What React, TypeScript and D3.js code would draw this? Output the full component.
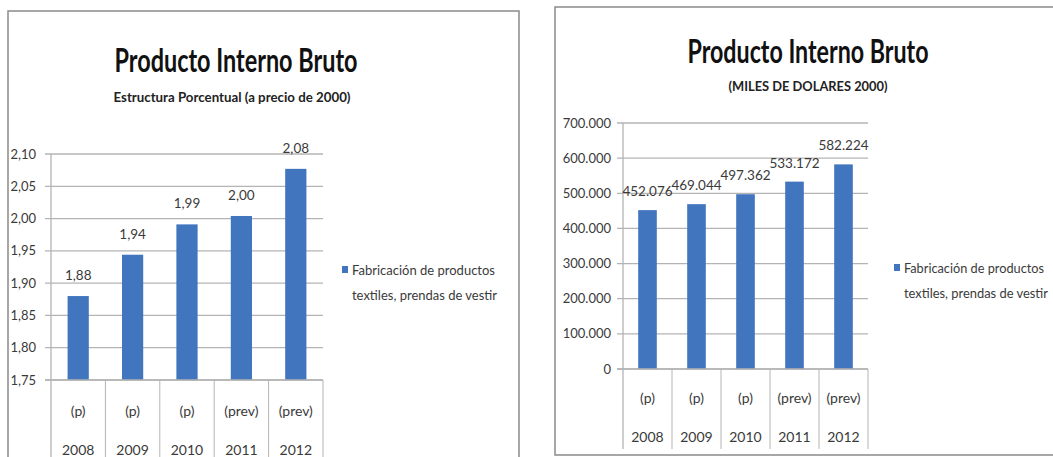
import React from "react";
import * as d3 from "d3";

const years = ["2008", "2009", "2010", "2011", "2012"];
const status = ["(p)", "(p)", "(p)", "(prev)", "(prev)"];
const pctValues = [1.88, 1.944, 1.991, 2.004, 2.077];
const pctTicks = [1.75, 1.8, 1.85, 1.9, 1.95, 2.0, 2.05, 2.1];
const usdValues = [452076, 469044, 497362, 533172, 582224];
const usdTicks = [0, 100000, 200000, 300000, 400000, 500000, 600000, 700000];
const legendLines = ["Fabricación de productos", "textiles, prendas de vestir"];
const mainTitle = "Producto Interno Bruto";
const pctSubtitle = "Estructura Porcentual (a precio de 2000)";
const usdSubtitle = "(MILES DE DOLARES 2000)";

const FONT = "Lato, 'Noto Sans', sans-serif";
const BAR = "#4175bd";
const GRID = "#b4b4b4";
const TXT = "#3a3a3a";

const fmtPct = (v: number) => d3.format(".2f")(v).replace(".", ",");
const fmtUsd = (v: number) => d3.format(",")(v).replace(/,/g, ".");

type Cfg = {
  frame: { x: number; y: number; w: number; h: number };
  title: { cx: number; y: number; w: number };
  sub: { text: string; cx: number; y: number; w: number; size: number };
  x0: number; x1: number; yTop: number; yBot: number;
  domain: [number, number];
  ticks: number[];
  values: number[];
  fmtTick: (v: number) => string;
  fmtLabel: (v: number) => string;
  tickRight: number;
  padding: number;
  statusY: number; yearY: number; sepBottom: number;
  legend: { x: number; y: number; w1: number; w2: number };
  labelOffset: number;
};

function Chart({ c }: { c: Cfg }) {
  const x = d3.scaleBand<string>().domain(years).range([c.x0, c.x1])
    .paddingInner(c.padding).paddingOuter(c.padding / 2);
  const y = d3.scaleLinear().domain(c.domain).range([c.yBot, c.yTop]);
  const step = x.step();
  return (
    <g>
      <rect x={c.frame.x} y={c.frame.y} width={c.frame.w} height={c.frame.h}
        fill="#fff" stroke="#8a8a8a" strokeWidth={1.5} />
      <text x={c.title.cx} y={c.title.y} textAnchor="middle" fontFamily={FONT}
        fontWeight="bold" fontSize={33} fill="#111" textLength={c.title.w}
        lengthAdjust="spacingAndGlyphs">{mainTitle}</text>
      <text x={c.sub.cx} y={c.sub.y} textAnchor="middle" fontFamily={FONT}
        fontWeight="bold" fontSize={c.sub.size} fill="#222" textLength={c.sub.w}
        lengthAdjust="spacingAndGlyphs">{c.sub.text}</text>
      {c.ticks.map((t) => (
        <g key={t}>
          <line x1={c.x0 - 6} x2={c.x1} y1={y(t)} y2={y(t)} stroke={GRID} strokeWidth={1.3} />
          <text x={c.tickRight} y={y(t) + 4.5} textAnchor="end" fontFamily={FONT}
            fontSize={13} fill={TXT}>{c.fmtTick(t)}</text>
        </g>
      ))}
      <line x1={c.x0} x2={c.x0} y1={c.yTop} y2={c.sepBottom} stroke={GRID} strokeWidth={1.3} />
      {years.map((yr) => (
        <line key={"s" + yr} x1={(x(yr) as number) - step * c.padding / 2 + step}
          x2={(x(yr) as number) - step * c.padding / 2 + step}
          y1={c.yBot} y2={c.sepBottom} stroke={GRID} strokeWidth={1} />
      ))}
      {years.map((yr, i) => (
        <g key={yr}>
          <rect x={x(yr)} y={y(c.values[i])} width={x.bandwidth()}
            height={c.yBot - y(c.values[i])} fill={BAR} />
          <text x={(x(yr) as number) + x.bandwidth() / 2} y={y(c.values[i]) - c.labelOffset}
            textAnchor="middle" fontFamily={FONT} fontSize={13.5} fill={TXT}>{c.fmtLabel(c.values[i])}</text>
          <text x={(x(yr) as number) + x.bandwidth() / 2} y={c.statusY}
            textAnchor="middle" fontFamily={FONT} fontSize={14} fill={TXT}>{status[i]}</text>
          <text x={(x(yr) as number) + x.bandwidth() / 2} y={c.yearY}
            textAnchor="middle" fontFamily={FONT} fontSize={14} fill={TXT}>{yr}</text>
        </g>
      ))}
      <line x1={c.x0 - 6} x2={c.x1} y1={c.yBot} y2={c.yBot} stroke={GRID} strokeWidth={1.3} />
      <rect x={c.legend.x} y={c.legend.y - 9} width={6} height={7} fill={BAR} />
      {legendLines.map((l, i) => (
        <text key={l} x={c.legend.x + 10} y={c.legend.y + i * 25} fontFamily={FONT}
          fontSize={14} fill={TXT} textLength={i === 0 ? c.legend.w1 : c.legend.w2}
          lengthAdjust="spacingAndGlyphs">{l}</text>
      ))}
    </g>
  );
}

const left: Cfg = {
  frame: { x: 8, y: 11, w: 511, h: 470 },
  title: { cx: 236, y: 72, w: 243 },
  sub: { text: pctSubtitle, cx: 232, y: 102, w: 237, size: 14 },
  x0: 51, x1: 323, yTop: 154, yBot: 380,
  domain: [1.75, 2.1], ticks: pctTicks, values: pctValues,
  fmtTick: fmtPct, fmtLabel: fmtPct, tickRight: 36, padding: 0.61,
  statusY: 416, yearY: 455, sepBottom: 470,
  legend: { x: 342, y: 275, w1: 143, w2: 145 }, labelOffset: 16,
};

const right: Cfg = {
  frame: { x: 555, y: 7, w: 520, h: 448 },
  title: { cx: 808, y: 63, w: 241 },
  sub: { text: usdSubtitle, cx: 808, y: 91, w: 159, size: 14 },
  x0: 623, x1: 868, yTop: 123, yBot: 369,
  domain: [0, 700000], ticks: usdTicks, values: usdValues,
  fmtTick: fmtUsd, fmtLabel: fmtUsd, tickRight: 611, padding: 0.62,
  statusY: 403, yearY: 442, sepBottom: 449,
  legend: { x: 894, y: 273, w1: 140, w2: 144 }, labelOffset: 14,
};

export default function App() {
  return (
    <svg width={1053} height={457} style={{ position: "absolute", left: 0, top: 0, background: "#fff" }}>
      <rect width={1053} height={457} fill="#fff" />
      <Chart c={left} />
      <Chart c={right} />
    </svg>
  );
}
